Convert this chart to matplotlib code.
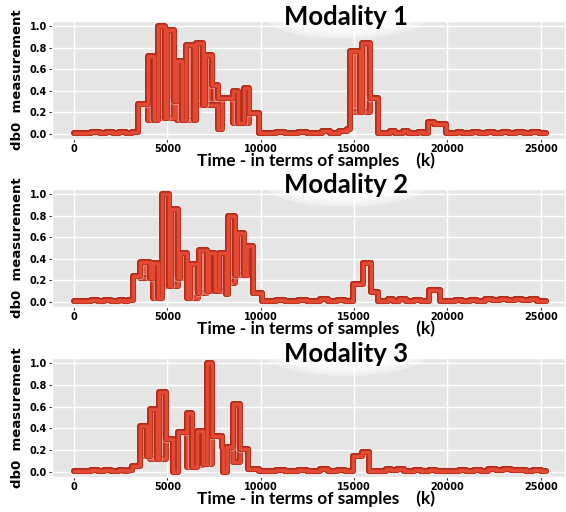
import numpy as np
import matplotlib
matplotlib.use("Agg")
import matplotlib.pyplot as plt
from matplotlib.patches import Ellipse
import matplotlib.patheffects as pe

plt.style.use("ggplot")

END_T = 25300

# modality 1 : segment start (samples), lower / upper level of the trace
m1_t = [0, 900, 1400, 1700, 2100, 2400, 2800, 3100, 3430, 3960, 4270, 4500,
        4890, 5000, 5330, 5530, 5800, 6000, 6450, 6540, 6900, 7040, 7390, 7700,
        7900, 8500, 8760, 9080, 9380, 9920, 10800, 11300, 12000, 12500, 13300,
        13700, 14200, 14600, 14800, 15330, 15430, 15860, 16290, 16900, 17200,
        17600, 17900, 18400, 18700, 18960, 19300, 19950, 20500, 20800, 21300,
        21700, 22100, 22500, 22900, 23300, 23700, 24100, 24500, 24900]
m1_lo = [0.005, 0.02, 0.01, 0.02, 0.01, 0.02, 0.01, 0.02, 0.28, 0.13, 0.13, 0.15,
         0.15, 0.15, 0.31, 0.13, 0.13, 0.13, 0.13, 0.27, 0.27, 0.27, 0.27, 0.05,
         0.33, 0.10, 0.10, 0.10, 0.19, 0.01, 0.02, 0.01, 0.02, 0.01, 0.03,
         0.01, 0.03, 0.05, 0.20, 0.20, 0.20, 0.33, 0.01, 0.03, 0.01,
         0.03, 0.01, 0.02, 0.01, 0.11, 0.09, 0.01, 0.02, 0.01, 0.02,
         0.01, 0.02, 0.01, 0.02, 0.01, 0.02, 0.01, 0.02, 0.005]
m1_hi = [0.005, 0.02, 0.01, 0.02, 0.01, 0.02, 0.01, 0.02, 0.28, 0.72, 0.13, 1.00,
         0.15, 0.96, 0.31, 0.68, 0.13, 0.82, 0.13, 0.84, 0.27, 0.73, 0.45, 0.33,
         0.33, 0.40, 0.10, 0.43, 0.19, 0.01, 0.02, 0.01, 0.02, 0.01, 0.03,
         0.01, 0.03, 0.05, 0.77, 0.20, 0.84, 0.33, 0.01, 0.03, 0.01,
         0.03, 0.01, 0.02, 0.01, 0.11, 0.09, 0.01, 0.02, 0.01, 0.02,
         0.01, 0.02, 0.01, 0.02, 0.01, 0.02, 0.01, 0.02, 0.005]

# modality 2
m2_t = [0, 900, 1300, 1600, 2000, 2400, 2700, 2900, 3150, 3560, 4090, 4220,
        4500, 4720, 5070, 5200, 5550, 5700, 6050, 6230, 6620, 6680, 7120, 7210,
        7570, 7740, 8140, 8240, 8630, 8720, 9130, 9250, 9610, 10050, 10800,
        11300, 12000, 12500, 13200, 13600, 14100, 14500, 14960, 15460, 15890,
        16300, 16800, 17100, 17400, 17800, 18200, 18600, 19020, 19580, 20400,
        20800, 21200, 21600, 22000, 22400, 22800, 23200, 23600, 24000, 24400,
        24800]
m2_lo = [0.005, 0.02, 0.01, 0.02, 0.01, 0.02, 0.01, 0.02, 0.24, 0.22, 0.22, 0.04,
         0.04, 0.15, 0.15, 0.15, 0.22, 0.22, 0.04, 0.04, 0.08, 0.08, 0.10, 0.10,
         0.10, 0.10, 0.07, 0.18, 0.25, 0.25, 0.25, 0.25, 0.08, 0.01, 0.02,
         0.01, 0.02, 0.01, 0.03, 0.01, 0.02, 0.01, 0.17, 0.36, 0.09,
         0.01, 0.03, 0.01, 0.03, 0.01, 0.02, 0.01, 0.11, 0.01, 0.02,
         0.01, 0.02, 0.01, 0.03, 0.02, 0.03, 0.02, 0.03, 0.02, 0.03,
         0.01]
m2_hi = [0.005, 0.02, 0.01, 0.02, 0.01, 0.02, 0.01, 0.02, 0.24, 0.37, 0.22, 0.36,
         0.04, 1.00, 0.15, 0.86, 0.22, 0.45, 0.04, 0.35, 0.08, 0.48, 0.10, 0.45,
         0.10, 0.45, 0.07, 0.80, 0.25, 0.64, 0.25, 0.52, 0.08, 0.01, 0.02,
         0.01, 0.02, 0.01, 0.03, 0.01, 0.02, 0.01, 0.17, 0.36, 0.09,
         0.01, 0.03, 0.01, 0.03, 0.01, 0.02, 0.01, 0.11, 0.01, 0.02,
         0.01, 0.02, 0.01, 0.03, 0.02, 0.03, 0.02, 0.03, 0.02, 0.03,
         0.01]

# modality 3
m3_t = [0, 900, 1300, 1600, 2000, 2400, 2700, 2900, 3090, 3540, 3890, 4070,
        4430, 4570, 4910, 5320, 5550, 6070, 6340, 6610, 6930, 7110, 7410, 7910,
        8000, 8180, 8540, 8890, 9340, 9900, 10800, 11300, 12000, 12500, 13200,
        13600, 14100, 14500, 14960, 15400, 15820, 16700, 17000, 17300, 17700,
        18200, 18600, 19000, 19400, 20200, 20600, 21000, 21400, 21800, 22200,
        22600, 23000, 23400, 23800, 24200, 24600, 25000]
m3_lo = [0.005, 0.02, 0.01, 0.02, 0.01, 0.02, 0.01, 0.02, 0.055, 0.15, 0.15, 0.12,
         0.12, 0.12, 0.30, 0.00, 0.37, 0.05, 0.05, 0.06, 0.07, 0.07, 0.33, 0.225,
         0.00, 0.225, 0.09, 0.215, 0.03, 0.01, 0.02, 0.01, 0.02, 0.01, 0.03,
         0.01, 0.02, 0.01, 0.15, 0.185, 0.01, 0.03, 0.02, 0.03, 0.01,
         0.02, 0.01, 0.02, 0.01, 0.01, 0.02, 0.01, 0.02, 0.01, 0.03,
         0.02, 0.03, 0.02, 0.02, 0.01, 0.02, 0.005]
m3_hi = [0.005, 0.02, 0.01, 0.02, 0.01, 0.02, 0.01, 0.02, 0.055, 0.42, 0.15, 0.58,
         0.12, 0.73, 0.30, 0.00, 0.37, 0.545, 0.05, 0.38, 0.07, 1.00, 0.33, 0.225,
         0.00, 0.225, 0.62, 0.215, 0.03, 0.01, 0.02, 0.01, 0.02, 0.01, 0.03,
         0.01, 0.02, 0.01, 0.15, 0.185, 0.01, 0.03, 0.02, 0.03, 0.01,
         0.02, 0.01, 0.02, 0.01, 0.01, 0.02, 0.01, 0.02, 0.01, 0.03,
         0.02, 0.03, 0.02, 0.02, 0.01, 0.02, 0.005]

titles = ["Modality 1", "Modality 2", "Modality 3"]
x_ticks = [0, 5000, 10000, 15000, 20000, 25000]
y_ticks = [0.0, 0.2, 0.4, 0.6, 0.8, 1.0]
x_label = "Time - in terms of samples    (k)"
y_label = "db0  measurement"

RED = "#e34a33"
DARK = "#b32b1b"

fig = plt.figure(figsize=(5.66, 5.12), dpi=100)
fig.patch.set_facecolor("white")

# axes boxes in pixels: (top, bottom)
boxes = [(21, 139), (189, 307), (358, 477)]
W, H = 566.0, 512.0
left, right = 52, 565

series = [(m1_t, m1_lo, m1_hi), (m2_t, m2_lo, m2_hi), (m3_t, m3_lo, m3_hi)]

for i, (t, lo, hi) in enumerate(series):
    top, bot = boxes[i]
    ax = fig.add_axes([left / W, 1 - bot / H, (right - left) / W, (bot - top) / H])
    ax.set_facecolor("#e5e5e5")
    ax.grid(True, color="white", lw=1.0)

    x = np.append(t, END_T)
    lo_a = np.array(lo)
    hi_a = np.array(hi)
    widths = np.diff(x)

    # dense oscillating blocks, drawn as filled columns
    band = hi_a > lo_a
    ax.bar(np.array(t)[band], (hi_a - lo_a)[band], width=widths[band],
           bottom=lo_a[band], align="edge", color=RED, edgecolor=DARK,
           linewidth=1.2, zorder=2)

    effects = [pe.Stroke(linewidth=6.0, foreground="white", alpha=0.35),
               pe.Stroke(linewidth=4.4, foreground=DARK), pe.Normal()]
    for lev in (lo_a, hi_a):
        ax.step(x, np.append(lev, lev[-1]), where="post", color=RED, lw=2.5,
                solid_joinstyle="round", solid_capstyle="round",
                path_effects=effects, zorder=3)

    ax.set_xlim(-1180, 26300)
    ax.set_ylim(-0.046, 1.046)
    ax.set_xticks(x_ticks)
    ax.set_yticks(y_ticks)
    ax.set_yticklabels(["%.1f" % v for v in y_ticks])
    ax.tick_params(axis="both", colors="#333333", labelcolor="black",
                   labelsize=7, length=2, width=0.8, pad=1.5)
    for lab in ax.get_xticklabels() + ax.get_yticklabels():
        lab.set_fontweight("bold")
        lab.set_family("DejaVu Sans")

    ax.set_xlabel(x_label, fontsize=12.4, fontweight="bold", family="Lato",
                  color="black", va="baseline")
    ax.xaxis.set_label_coords((316 - left) / (right - left), -27.0 / (bot - top))
    ax.set_ylabel(y_label, fontsize=9.5, fontweight="bold", family="DejaVu Sans",
                  color="black", va="center")
    ax.yaxis.set_label_coords((18 - left) / (right - left), 0.5)

    # soft white glow behind the title (inside the axes, above the grid)
    cy = top - 5
    for k, a in enumerate([0.35, 0.4, 0.45, 0.5]):
        s = 1.0 - 0.12 * k
        ell = Ellipse((346 / W, 1 - cy / H), width=162 * s / W, height=46 * s / H,
                      transform=fig.transFigure, facecolor="white",
                      edgecolor="none", alpha=a, zorder=1.5)
        ax.add_patch(ell)

    fig.text(346 / W, 1 - (top + 4) / H, titles[i], ha="center", va="baseline",
             fontsize=18.5, fontweight="bold", family="Lato", color="black",
             zorder=5)

fig.savefig("out.png", dpi=100, facecolor="white")
